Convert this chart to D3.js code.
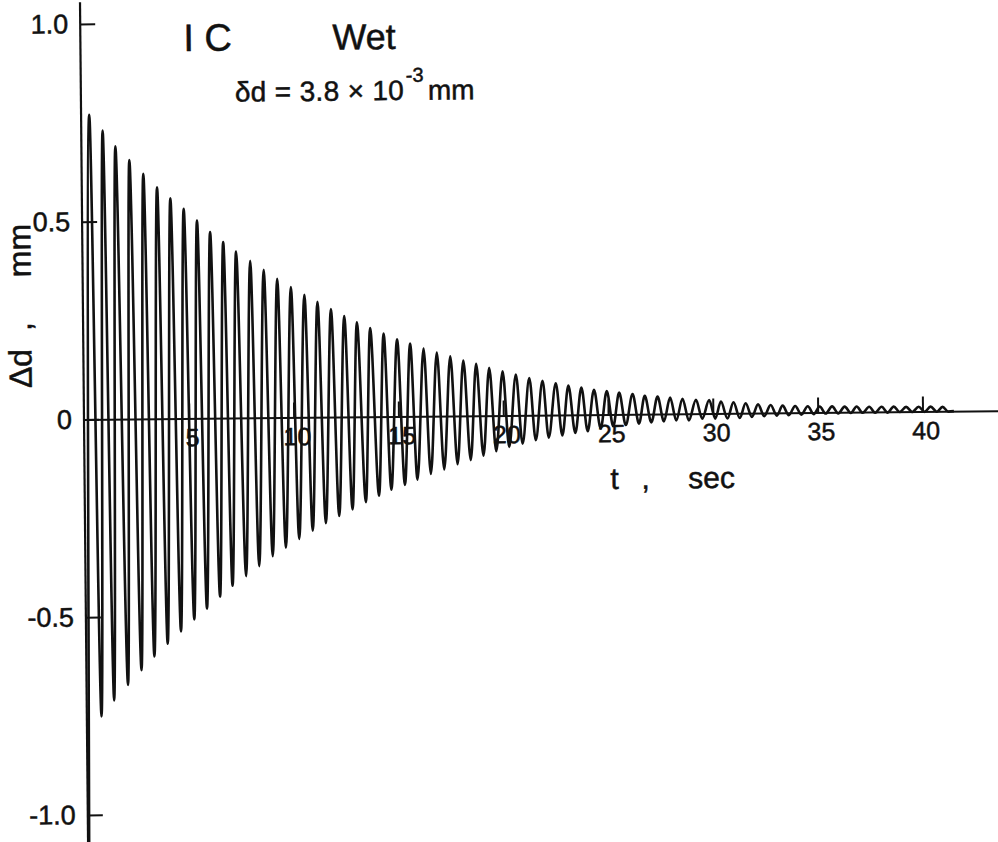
<!DOCTYPE html>
<html>
<head>
<meta charset="utf-8">
<script src="https://cdn.jsdelivr.net/npm/d3@7"></script>
<style>
  html, body { margin: 0; padding: 0; background: #fff; }
  svg { display: block; }
  text { font-family: "Liberation Sans", Arial, sans-serif; fill: #111; stroke: #111; stroke-width: 0.5px; }
</style>
</head>
<body>
<div id="chart"></div>
<script>
// Damped free vibration record (t in sec, Δd in mm)
const releaseTime = 0.05;
const releaseValue = -1.09;
const endTime = 41.5;

const peakTimes = [
  0.39, 1.02, 1.62, 2.28, 2.94, 3.59, 4.22, 4.85, 5.48, 6.10,
  6.72, 7.33, 8.00, 8.64, 9.28, 9.93, 10.57, 11.19, 11.83, 12.46,
  13.06, 13.69, 14.33, 14.97, 15.59, 16.23, 16.86, 17.50, 18.12, 18.73,
  19.35, 19.99, 20.62, 21.26, 21.89, 22.52, 23.12, 23.74, 24.34, 24.95,
  25.54, 26.18, 26.76, 27.37, 27.97, 28.56, 29.20, 29.83, 30.39, 30.99,
  31.57, 32.16, 32.76, 33.33, 33.93, 34.53, 35.10, 35.69, 36.29, 36.86,
  37.46, 38.05, 38.63, 39.22, 39.82, 40.39, 40.96
];
const peakValues = [
  0.77, 0.73, 0.69, 0.655, 0.62, 0.585, 0.557, 0.53, 0.50, 0.471,
  0.445, 0.421, 0.397, 0.374, 0.351, 0.33, 0.31, 0.292, 0.273, 0.255,
  0.239, 0.224, 0.21, 0.195, 0.184, 0.171, 0.161, 0.151, 0.14, 0.131,
  0.121, 0.112, 0.103, 0.094, 0.087, 0.08, 0.074, 0.069, 0.063, 0.059,
  0.055, 0.051, 0.046, 0.044, 0.041, 0.038, 0.035, 0.034, 0.030, 0.028,
  0.025, 0.022, 0.020, 0.018, 0.017, 0.016, 0.015, 0.015, 0.014, 0.014,
  0.013, 0.013, 0.013, 0.012, 0.012, 0.012, 0.011
];
const troughTimes = [
  0.70, 1.31, 1.98, 2.63, 3.25, 3.89, 4.53, 5.17, 5.78, 6.41,
  7.01, 7.66, 8.29, 8.94, 9.57, 10.21, 10.86, 11.49, 12.13, 12.77,
  13.41, 14.04, 14.63, 15.28, 15.88, 16.52, 17.16, 17.80, 18.43, 19.04,
  19.65, 20.27, 20.91, 21.54, 22.16, 22.81, 23.43, 24.02, 24.64, 25.24,
  25.84, 26.47, 27.06, 27.66, 28.25, 28.85, 29.49, 30.11, 30.69, 31.28,
  31.86, 32.45, 33.05, 33.62, 34.22, 34.81, 35.38, 35.98, 36.58, 37.15,
  37.74, 38.34, 38.91, 39.51, 40.10, 40.68, 41.23
];
const troughValues = [
  -0.751, -0.711, -0.672, -0.635, -0.601, -0.569, -0.538, -0.508, -0.481, -0.451,
  -0.424, -0.400, -0.375, -0.350, -0.329, -0.307, -0.287, -0.268, -0.250, -0.234,
  -0.216, -0.200, -0.185, -0.173, -0.160, -0.146, -0.135, -0.122, -0.112, -0.101,
  -0.090, -0.080, -0.072, -0.063, -0.057, -0.052, -0.046, -0.042, -0.035, -0.030,
  -0.027, -0.024, -0.021, -0.019, -0.017, -0.017, -0.013, -0.013, -0.013, -0.012,
  -0.010, -0.008, -0.007, -0.006, -0.005, -0.004, -0.003, -0.003, -0.002, -0.002,
  -0.002, -0.002, -0.001, -0.001, -0.001, -0.001, -0.001
];

const xTicks = [5, 10, 15, 20, 25, 30, 35, 40];
const yTicks = [1, 0.5, 0, -0.5, -1];
const yTickLabels = ["1.0", "0.5", "0", "-0.5", "-1.0"];

const width = 998, height = 842;

const svg = d3.select("#chart")
  .append("svg")
  .attr("width", width)
  .attr("height", height);

// the scanned sheet sits slightly askew
const g = svg.append("g")
  .attr("transform", "rotate(-0.55, 84, 419.5)");

const x = d3.scaleLinear().domain([0, 43.6]).range([84, 998]);
const y = d3.scaleLinear().domain([-1, 1]).range([815, 24]);

// trace points: release, then peaks and troughs in time order
const trace = [{ t: releaseTime, v: releaseValue }]
  .concat(peakTimes.map((t, i) => ({ t, v: peakValues[i] })))
  .concat(troughTimes.map((t, i) => ({ t, v: troughValues[i] })))
  .sort((a, b) => a.t - b.t);
trace.push({ t: endTime, v: 0 });

// x axis (the zero line)
const xAxisG = g.append("g")
  .attr("transform", `translate(0,${y(0)})`)
  .call(d3.axisBottom(x)
    .tickValues(xTicks)
    .tickSizeInner(-15)
    .tickSizeOuter(0)
    .tickPadding(10));

xAxisG.select(".domain").attr("stroke", "#111").attr("stroke-width", 2);
xAxisG.selectAll(".tick line").attr("stroke", "#111").attr("stroke-width", 2);
xAxisG.selectAll(".tick text")
  .attr("font-family", "Liberation Sans, Arial, sans-serif")
  .attr("font-size", 25)
  .attr("dx", 3)
  .attr("fill", "#111");

// y axis
const yAxisG = g.append("g")
  .attr("transform", `translate(${x(0)},0)`)
  .call(d3.axisLeft(y)
    .tickValues(yTicks)
    .tickFormat((d, i) => yTickLabels[i])
    .tickSizeInner(-15)
    .tickSizeOuter(0)
    .tickPadding(12));

yAxisG.select(".domain").remove();
yAxisG.selectAll(".tick line").attr("stroke", "#111").attr("stroke-width", 2);
yAxisG.selectAll(".tick text")
  .attr("font-family", "Liberation Sans, Arial, sans-serif")
  .attr("font-size", 27)
  .attr("fill", "#111");

g.append("line")
  .attr("x1", x(0)).attr("x2", x(0))
  .attr("y1", y(1.055)).attr("y2", y(-1.08))
  .attr("stroke", "#111")
  .attr("stroke-width", 2.2);

// oscillation trace
const line = d3.line()
  .x(d => x(d.t))
  .y(d => y(d.v))
  .curve(d3.curveMonotoneX);

g.append("path")
  .datum(trace)
  .attr("d", line)
  .attr("fill", "none")
  .attr("stroke", "#111")
  .attr("stroke-width", 2.6)
  .attr("stroke-linejoin", "round");

// titles
g.append("text")
  .attr("x", 187).attr("y", 52)
  .attr("font-size", 38)
  .text("I C");

g.append("text")
  .attr("x", 336).attr("y", 52)
  .attr("font-size", 36)
  .text("Wet");

const note = g.append("text").attr("font-size", 28);
note.append("tspan")
  .attr("x", 238).attr("y", 103)
  .attr("textLength", 169)
  .attr("lengthAdjust", "spacing")
  .text("δd = 3.8 × 10");
note.append("tspan")
  .attr("x", 409).attr("y", 85)
  .attr("font-size", 20)
  .text("-3");
note.append("tspan")
  .attr("x", 431).attr("y", 103)
  .attr("font-size", 28)
  .text("mm");

// axis titles
const yLabels = [
  { s: "Δd", at: 368 },
  { s: ",", at: 326 },
  { s: "mm", at: 250 }
];
g.selectAll(".ylab")
  .data(yLabels)
  .enter()
  .append("text")
  .attr("class", "ylab")
  .attr("transform", d => `translate(32,${d.at}) rotate(-90)`)
  .attr("text-anchor", "middle")
  .attr("font-size", 32)
  .text(d => d.s);

const xLabels = [
  { s: "t", at: 614 },
  { s: ",", at: 645 },
  { s: "sec", at: 711 }
];
g.selectAll(".xlab")
  .data(xLabels)
  .enter()
  .append("text")
  .attr("class", "xlab")
  .attr("x", d => d.at)
  .attr("y", 494)
  .attr("text-anchor", "middle")
  .attr("font-size", 30)
  .text(d => d.s);
</script>
</body>
</html>
